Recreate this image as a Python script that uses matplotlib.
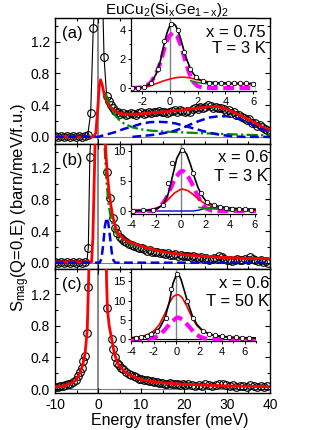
import matplotlib
matplotlib.use('Agg')
import matplotlib.pyplot as plt
from matplotlib.ticker import MultipleLocator, FormatStrFormatter

plt.rcParams['font.family'] = ['Liberation Sans', 'DejaVu Sans']
plt.rcParams['mathtext.fontset'] = 'custom'
plt.rcParams['mathtext.rm'] = 'Liberation Sans'
plt.rcParams['mathtext.it'] = 'Liberation Sans'
plt.rcParams['axes.unicode_minus'] = False

# ---------------- panel (a): x = 0.75, T = 3 K ----------------
a_E = [-10, -9.3, -8.6, -7.9, -7.2, -6.5, -5.8, -5.1, -4.4, -3.7, -3.0, -2.4, -1.7, -1.1,
       1.4, 2.0, 2.5, 3.0, 3.5, 4.0, 4.6, 5.2, 5.8, 6.4, 7.0, 7.6, 8.2, 8.8, 9.4, 10.0,
       10.6, 11.2, 11.8, 12.4, 13.0, 13.6, 14.2, 14.8, 15.4, 16.0, 16.6, 17.2, 17.8, 18.4,
       19.0, 19.6, 20.2, 20.8, 21.4, 22.0, 22.6, 23.2, 23.8, 24.4, 25.0, 25.6, 26.2, 26.8,
       27.4, 28.0, 28.6, 29.2, 29.8, 30.4, 31.0, 31.6, 32.2, 32.8, 33.4, 34.0, 34.6, 35.2,
       35.8, 36.4, 37.0, 37.6, 38.2, 38.8, 39.4, 40.0]
a_S = [0.01, 0.0, 0.01, 0.0, 0.01, 0.0, 0.01, 0.0, 0.01, 0.0, 0.01, 0.02, 0.30, 1.38,
       1.01, 0.52, 0.45, 0.40, 0.37, 0.33, 0.31, 0.29, 0.30, 0.28, 0.29, 0.30, 0.29, 0.28, 0.30, 0.31,
       0.29, 0.30, 0.31, 0.30, 0.31, 0.32, 0.33, 0.31, 0.32, 0.30, 0.31, 0.33, 0.34, 0.32,
       0.34, 0.33, 0.31, 0.33, 0.32, 0.35, 0.36, 0.35, 0.38, 0.37, 0.38, 0.40, 0.39, 0.37,
       0.38, 0.36, 0.37, 0.35, 0.33, 0.34, 0.30, 0.31, 0.28, 0.27, 0.25, 0.24, 0.21, 0.22,
       0.18, 0.17, 0.14, 0.15, 0.12, 0.10, 0.09, 0.08]
a_blk_E = [-10, -2.4, -1.7, -1.1, -0.7, 1.1, 1.4, 2.0, 2.6]
a_blk_S = [0.0, 0.02, 0.30, 1.38, 1.7, 1.7, 1.01, 0.52, 0.45]
a_red_E = [-10, -1.0, -0.5, 0.0, 0.3, 0.6, 1.0, 1.5, 2.0, 3.0, 4.0, 5.0, 6.0, 8.0, 10, 12, 14,
           16, 18, 20, 22, 24, 26, 27, 28, 30, 32, 34, 36, 38, 40]
a_red_S = [0.0, 0.0, 0.05, 0.40, 0.65, 0.72, 0.65, 0.52, 0.45, 0.37, 0.32, 0.30, 0.29, 0.285,
           0.29, 0.30, 0.31, 0.32, 0.33, 0.34, 0.355, 0.37, 0.38, 0.385, 0.38, 0.35, 0.30, 0.25,
           0.19, 0.13, 0.09]
a_grn_E = [1.8, 2.0, 2.5, 3.0, 4.0, 5.0, 6.0, 8.0, 10, 12, 15, 20, 25, 30, 35, 40]
a_grn_S = [0.55, 0.50, 0.44, 0.38, 0.27, 0.21, 0.17, 0.12, 0.095, 0.08, 0.068, 0.055, 0.045,
           0.035, 0.025, 0.018]
a_bl1_E = [-10, 0, 2, 4, 6, 8, 10, 12, 14, 16, 18, 20, 22, 24, 26, 28, 30, 32, 34, 40]
a_bl1_S = [0.0, 0.0, 0.03, 0.06, 0.10, 0.13, 0.165, 0.185, 0.19, 0.185, 0.17, 0.14, 0.11,
           0.08, 0.05, 0.03, 0.015, 0.005, 0.0, 0.0]
a_bl2_E = [8, 10, 12, 14, 16, 18, 20, 22, 24, 26, 28, 30, 32, 34, 36, 38, 40]
a_bl2_S = [0.0, 0.01, 0.02, 0.035, 0.055, 0.08, 0.12, 0.17, 0.21, 0.245, 0.26, 0.26, 0.24,
           0.20, 0.15, 0.10, 0.06]

# inset (a)
ia_E = [-2.7, -2.3, -1.85, -1.35, -0.85, -0.4, 0.1, 0.55, 1.0, 1.45, 1.9, 2.35, 2.8, 3.25,
        3.7, 4.15, 4.6, 5.05, 5.5, 5.95]
ia_S = [0.03, 0.03, 0.1, 0.37, 1.3, 3.2, 4.4, 3.95, 2.5, 1.3, 0.75, 0.47, 0.38, 0.35, 0.33,
        0.34, 0.32, 0.33, 0.32, 0.31]
ia_blk_E = [-2.8, -2.3, -2.0, -1.6, -1.3, -1.0, -0.7, -0.4, -0.2, 0.0, 0.2, 0.4, 0.6, 0.8,
            1.0, 1.2, 1.4, 1.6, 1.8, 2.0, 2.3, 2.6, 3.0, 4.0, 5.0, 6.2]
ia_blk_S = [0.02, 0.03, 0.06, 0.2, 0.45, 0.95, 1.8, 3.1, 3.8, 4.3, 4.45, 4.3, 3.9, 3.3, 2.6,
            2.0, 1.5, 1.1, 0.85, 0.65, 0.5, 0.42, 0.38, 0.35, 0.33, 0.32]
ia_mag_E = [-2.8, -2.2, -1.8, -1.4, -1.0, -0.7, -0.4, -0.1, 0.2, 0.5, 0.8, 1.1, 1.4, 1.7,
            2.0, 2.4, 3.0, 6.2]
ia_mag_S = [0.0, 0.03, 0.12, 0.35, 0.95, 1.7, 2.7, 3.5, 3.8, 3.6, 2.9, 1.9, 1.0, 0.4, 0.13,
            0.03, 0.0, 0.0]
ia_red_E = [-2.8, -2.0, -1.5, -1.0, -0.5, 0.0, 0.5, 0.9, 1.4, 2.0, 2.6, 3.3, 4.5, 6.2]
ia_red_S = [0.0, 0.02, 0.12, 0.3, 0.48, 0.62, 0.72, 0.75, 0.71, 0.57, 0.45, 0.37, 0.28, 0.22]
ia_grn_E = [1.5, 2.0, 2.5, 3.0, 4.0, 5.0, 6.2]
ia_grn_S = [0.5, 0.38, 0.32, 0.29, 0.27, 0.26, 0.25]

# ---------------- panel (b): x = 0.6, T = 3 K ----------------
b_E = [-10, -9.3, -8.6, -7.9, -7.2, -6.5, -5.8, -5.1, -4.4, -3.7, -3.0, -2.25, -1.9,
       2.0, 2.8, 3.55, 3.95, 4.5, 5.0, 5.5, 6.0, 6.6, 7.2, 7.8, 8.4, 9.0, 9.6, 10.2, 10.8,
       11.4, 12.0, 12.6, 13.2, 13.8, 14.4, 15.0, 15.6, 16.2, 16.8, 17.4, 18.0, 18.6, 19.2,
       19.8, 20.4, 21.0, 21.6, 22.2, 22.8, 23.4, 24.0, 24.6, 25.2, 25.8, 26.4, 27.0, 27.6,
       28.2, 28.8, 29.4, 30.0, 30.6, 31.2, 31.8, 32.4, 33.0, 33.6, 34.2, 34.8, 35.4, 36.0,
       36.6, 37.2, 37.8, 38.4, 39.0, 39.6]
b_S = [0.01, 0.0, 0.01, 0.0, 0.01, 0.0, 0.01, 0.0, 0.01, 0.0, 0.01, 0.19, 1.33,
       1.15, 0.82, 0.57, 0.44, 0.38, 0.33, 0.30, 0.28, 0.26, 0.24, 0.22, 0.21, 0.20, 0.18,
       0.18, 0.17, 0.15, 0.16, 0.14, 0.13, 0.13, 0.12, 0.12, 0.11, 0.12, 0.10, 0.10, 0.11,
       0.09, 0.10, 0.09, 0.08, 0.09, 0.07, 0.08, 0.07, 0.06, 0.07, 0.05, 0.06, 0.04, 0.05,
       0.06, 0.05, 0.08, 0.07, 0.05, 0.03, 0.04, 0.02, 0.03, 0.05, 0.04, 0.03, 0.05, 0.04,
       0.07, 0.05, 0.03, 0.02, 0.03, 0.01, 0.02, 0.0]
b_blk_E = [-10, -2.6, -2.25, -1.9, -1.6]
b_blk_S = [0.0, 0.01, 0.19, 1.33, 1.7]
b_red_E = [-10, -1.5, -1.2, -0.9, -0.6, 1.6, 1.8, 2.2, 2.6, 3.0, 3.5, 4.0, 4.5, 5.0, 6.0,
           7.0, 8.0, 10, 12, 14, 16, 18, 20, 25, 30, 35, 40]
b_red_S = [0.01, 0.01, 0.3, 1.0, 1.7, 1.7, 1.4, 1.1, 0.88, 0.72, 0.57, 0.46, 0.39, 0.35,
           0.30, 0.27, 0.25, 0.21, 0.18, 0.15, 0.13, 0.115, 0.10, 0.08, 0.065, 0.055, 0.05]
b_grn_E = [1.3, 1.6, 2.0, 2.5, 3.0, 3.5, 4.0, 5.0, 6.0, 8.0, 10, 15, 20, 30, 40]
b_grn_S = [1.7, 1.4, 1.0, 0.72, 0.56, 0.46, 0.39, 0.32, 0.28, 0.23, 0.195, 0.135, 0.095,
           0.06, 0.045]
b_blu_E = [-10, 0.4, 0.8, 1.2, 1.6, 2.0, 2.4, 2.8, 3.2, 3.6, 4.0, 40]
b_blu_S = [0.0, 0.0, 0.05, 0.22, 0.46, 0.57, 0.50, 0.32, 0.13, 0.03, 0.0, 0.0]

# inset (b)
ib_E = [-3.87, -3.04, -2.2, -1.39, -0.98, -0.65, 0.12, 1.03, 1.63, 2.18, 2.7, 3.2, 3.7,
        4.2, 4.7, 5.2, 5.7]
ib_S = [0.05, 0.1, 0.2, 1.0, 4.6, 8.1, 10.2, 6.3, 2.95, 1.55, 0.95, 0.7, 0.5, 0.4, 0.32,
        0.3, 0.25]
ib_blk_E = [-4.0, -3.0, -2.2, -1.8, -1.4, -1.0, -0.6, -0.3, 0.0, 0.2, 0.5, 0.8, 1.1, 1.4,
            1.7, 2.0, 2.4, 2.8, 3.3, 4.0, 5.0, 6.1]
ib_blk_S = [0.05, 0.08, 0.2, 0.5, 1.1, 2.8, 6.2, 8.8, 10.0, 10.3, 9.5, 7.8, 5.8, 4.0, 2.7,
            1.8, 1.2, 0.9, 0.7, 0.5, 0.35, 0.3]
ib_mag_E = [-4.0, -2.4, -2.0, -1.6, -1.2, -0.8, -0.4, 0.0, 0.2, 0.5, 0.9, 1.3, 1.7, 2.1,
            2.5, 3.0, 6.1]
ib_mag_S = [0.0, 0.02, 0.2, 0.8, 2.0, 3.8, 5.6, 6.6, 6.7, 6.2, 4.7, 2.9, 1.3, 0.4, 0.08,
            0.0, 0.0]
ib_red_E = [-4.0, -3.0, -2.2, -1.5, -1.0, -0.5, 0.0, 0.2, 0.6, 1.0, 1.5, 2.0, 2.5, 3.0,
            4.0, 5.0, 6.1]
ib_red_S = [0.02, 0.1, 0.3, 0.9, 1.9, 3.0, 3.6, 3.65, 3.4, 2.8, 1.9, 1.2, 0.8, 0.55, 0.3,
            0.18, 0.12]
ib_grn_E = [1.5, 2.0, 2.5, 3.0, 4.0, 5.0, 6.1]
ib_grn_S = [0.6, 0.45, 0.38, 0.32, 0.25, 0.2, 0.18]
ib_blu_E = [-4.0, 1.0, 1.5, 2.0, 2.4, 2.8, 3.3, 3.8, 4.3, 6.1]
ib_blu_S = [0.0, 0.0, 0.15, 0.45, 0.55, 0.45, 0.2, 0.05, 0.0, 0.0]

# ---------------- panel (c): x = 0.6, T = 50 K ----------------
c_E = [-10, -9.4, -8.8, -8.2, -7.6, -7.0, -6.4, -5.8, -5.2, -4.7, -4.2, -3.8, -3.4, -3.0,
       -2.5, -2.25, 2.1, 3.2, 3.6, 4.0, 4.4, 4.9, 5.4, 5.9, 6.5, 7.1, 7.7, 8.3, 8.9, 9.5,
       10.1, 10.7, 11.3, 11.9, 12.5, 13.1, 13.7, 14.3, 14.9, 15.5, 16.1, 16.7, 17.3, 17.9,
       18.5, 19.1, 19.7, 20.3, 21.0, 21.8, 22.6, 23.4, 24.2, 25.0, 25.8, 26.6, 27.4, 28.2,
       29.0, 29.8, 30.6, 31.4, 32.2, 33.0, 33.8, 34.6, 35.4, 36.2, 37.0, 37.8, 38.6, 39.4]
c_S = [0.03, 0.03, 0.04, 0.04, 0.05, 0.06, 0.07, 0.09, 0.12, 0.16, 0.21, 0.27, 0.35, 0.42,
       0.71, 1.29, 1.02, 0.64, 0.51, 0.40, 0.33, 0.30, 0.27, 0.25, 0.22, 0.19, 0.18, 0.16,
       0.15, 0.13, 0.13, 0.12, 0.11, 0.10, 0.10, 0.09, 0.09, 0.08, 0.08, 0.07, 0.07, 0.08,
       0.06, 0.07, 0.06, 0.05, 0.06, 0.05, 0.06, 0.05, 0.04, 0.05, 0.04, 0.06, 0.05, 0.04,
       0.05, 0.06, 0.07, 0.05, 0.04, 0.05, 0.03, 0.04, 0.04, 0.03, 0.05, 0.04, 0.03, 0.04,
       0.03, 0.04]
c_red_E = [-10, -8, -6, -5, -4, -3.5, -3.0, -2.5, -2.2, -1.9, 1.8, 2.0, 2.2, 2.6, 3.2, 3.6,
           4.0, 4.4, 5.0, 6.0, 7.0, 8.0, 10, 12, 15, 20, 25, 30, 35, 40]
c_red_S = [0.025, 0.04, 0.08, 0.12, 0.23, 0.32, 0.45, 0.75, 1.35, 2.0, 2.0, 1.35, 1.0, 0.8,
           0.63, 0.51, 0.42, 0.35, 0.29, 0.23, 0.19, 0.16, 0.12, 0.10, 0.08, 0.06, 0.05,
           0.04, 0.035, 0.03]

# inset (c)
ic_E = [-3.6, -3.1, -2.6, -2.2, -1.7, -0.95, -0.5, 0.05, 0.97, 1.45, 2.3, 2.85, 3.4, 4.0,
        4.6, 5.2, 5.8, 6.4]
ic_S = [0.35, 0.5, 0.8, 1.2, 2.0, 5.6, 13.0, 16.9, 10.0, 5.5, 2.1, 1.4, 1.0, 0.7, 0.55,
        0.45, 0.4, 0.35]
ic_blk_E = [-4.0, -3.0, -2.5, -2.0, -1.5, -1.0, -0.6, -0.3, 0.0, 0.15, 0.4, 0.7, 1.0, 1.4,
            1.8, 2.2, 2.7, 3.3, 4.0, 5.0, 6.0, 7.0]
ic_blk_S = [0.3, 0.55, 0.9, 1.5, 2.8, 5.5, 10.0, 14.5, 16.8, 17.1, 15.5, 12.5, 9.5, 6.0, 3.8,
            2.5, 1.6, 1.0, 0.7, 0.45, 0.35, 0.3]
ic_red_E = [-4.0, -3.0, -2.5, -2.0, -1.5, -1.0, -0.6, -0.3, 0.0, 0.2, 0.5, 0.9, 1.3, 1.8,
            2.3, 3.0, 4.0, 5.0, 7.0]
ic_red_S = [0.35, 0.7, 1.2, 2.1, 3.8, 6.7, 9.5, 11.0, 11.5, 11.5, 10.8, 8.6, 6.0, 3.5, 2.1,
            1.1, 0.6, 0.4, 0.25]
ic_mag_E = [-4.0, -2.5, -2.0, -1.5, -1.0, -0.5, 0.0, 0.2, 0.6, 1.0, 1.5, 2.0, 2.5, 3.0, 7.0]
ic_mag_S = [0.0, 0.05, 0.3, 1.0, 2.5, 4.3, 5.5, 5.6, 4.9, 3.6, 1.9, 0.7, 0.15, 0.0, 0.0]

labels = ['(a)', '(b)', '(c)']
conditions = [('x = 0.75', 'T = 3 K'), ('x = 0.6', 'T = 3 K'), ('x = 0.6', 'T = 50 K')]

RED = '#ff0000'
BLUE = '#0000dd'
GREEN = '#008a00'
MAG = '#ff00ff'
GRAY = '#808080'

W, H = 332, 430
fig = plt.figure(figsize=(W / 100, H / 100), dpi=100)


def px_axes(x0, y0, x1, y1):
    # pixel box (top-left origin) -> figure fraction
    return [x0 / W, 1 - y1 / H, (x1 - x0) / W, (y1 - y0) / H]


main_boxes = [(55, 18, 270, 144), (55, 144, 270, 269), (55, 269, 270, 393)]
inset_boxes = [(131, 18, 256, 91), (131, 144, 256, 214), (131, 269, 256, 341)]
main_ylims = [(-0.09, 1.5), (-0.08, 1.5), (-0.05, 1.52)]
inset_xlims = [(-2.8, 6.2), (-4, 6.1), (-4, 7)]
inset_ylims = [(-0.2, 4.8), (-0.5, 11.2), (-0.5, 18.2)]
inset_ymaj = [2, 5, 5]

axes = []
for i in range(3):
    ax = fig.add_axes(px_axes(*main_boxes[i]))
    ax.set_xlim(-10, 40)
    ax.set_ylim(*main_ylims[i])
    ax.xaxis.set_major_locator(MultipleLocator(10))
    ax.xaxis.set_minor_locator(MultipleLocator(5))
    ax.yaxis.set_major_locator(MultipleLocator(0.4))
    ax.yaxis.set_minor_locator(MultipleLocator(0.2))
    ax.yaxis.set_major_formatter(FormatStrFormatter('%.1f'))
    ax.tick_params(which='both', direction='in', top=True, right=True, labelsize=10,
                   width=0.8)
    ax.tick_params(which='major', length=3.5)
    ax.tick_params(which='minor', length=2.5)
    if i < 2:
        ax.tick_params(labelbottom=False)
    for s in ax.spines.values():
        s.set_linewidth(1.0)
    ax.axvline(0, color=GRAY, lw=1.3, zorder=1)
    ax.axhline(0, color=GRAY, lw=0.8, zorder=1)
    axes.append(ax)

ma, mb, mc = axes
circ = dict(ls='none', marker='o', ms=5.5, mfc='none', mec='k', mew=0.8, zorder=2)

# (a)
ma.plot(a_E, a_S, **circ)
ma.plot(a_blk_E, a_blk_S, color='k', lw=0.8, zorder=2)
ma.plot(a_red_E, a_red_S, color=RED, lw=2.0, zorder=3)
ma.plot(a_grn_E, a_grn_S, color=GREEN, lw=1.6, dashes=(5, 1.5, 1, 1.5), zorder=3)
ma.plot(a_bl1_E, a_bl1_S, color=BLUE, lw=1.8, dashes=(3.5, 1.8), zorder=4)
ma.plot(a_bl2_E, a_bl2_S, color=BLUE, lw=1.8, dashes=(3.5, 1.8), zorder=4)

# (b)
mb.plot(b_E, b_S, **circ)
mb.plot(b_blk_E, b_blk_S, color='k', lw=0.8, zorder=2)
mb.plot(b_grn_E, b_grn_S, color=GREEN, lw=1.6, dashes=(5, 1.5, 1, 1.5), zorder=3)
mb.plot(b_red_E, b_red_S, color=RED, lw=2.0, zorder=3)
mb.plot(b_blu_E, b_blu_S, color=BLUE, lw=1.8, dashes=(3.5, 1.8), zorder=4)

# (c)
mc.plot(c_E, c_S, **circ)
mc.plot(c_red_E, c_red_S, color=RED, lw=2.0, zorder=3)

# insets
ins_list = []
for i in range(3):
    ins = fig.add_axes(px_axes(*inset_boxes[i]))
    ins.set_xlim(*inset_xlims[i])
    ins.set_ylim(*inset_ylims[i])
    ins.xaxis.set_major_locator(MultipleLocator(2))
    ins.xaxis.set_minor_locator(MultipleLocator(1))
    ins.yaxis.set_major_locator(MultipleLocator(inset_ymaj[i]))
    ins.yaxis.set_minor_locator(MultipleLocator(inset_ymaj[i] / 2))
    ins.spines['right'].set_visible(False)
    for s in ins.spines.values():
        s.set_linewidth(0.9)
    ins.tick_params(which='both', direction='out', top=False, right=False, labelsize=8,
                    pad=1.5, width=0.7)
    ins.tick_params(which='major', length=2.5)
    ins.tick_params(which='minor', length=1.5)
    ins.axvline(0, color=GRAY, lw=1.0, zorder=1)
    ins_list.append(ins)

ia, ib, ic = ins_list
icirc = dict(ls='none', marker='o', ms=3.2, mfc='white', mec='k', mew=0.6, zorder=5)
mag = dict(color=MAG, lw=3.0, dashes=(2.6, 1.3), zorder=3)

ia.plot(ia_mag_E, ia_mag_S, **mag)
ia.plot(ia_grn_E, ia_grn_S, color=GREEN, lw=1.2, zorder=3)
ia.plot(ia_red_E, ia_red_S, color=RED, lw=1.2, zorder=4)
ia.plot(ia_blk_E, ia_blk_S, color='k', lw=1.2, zorder=4)
ia.plot(ia_E, ia_S, **icirc)

ib.plot(ib_blu_E, ib_blu_S, color=BLUE, lw=1.0, zorder=3)
ib.plot(ib_mag_E, ib_mag_S, **mag)
ib.plot(ib_grn_E, ib_grn_S, color=GREEN, lw=1.2, zorder=3)
ib.plot(ib_red_E, ib_red_S, color=RED, lw=1.2, zorder=4)
ib.plot(ib_blk_E, ib_blk_S, color='k', lw=1.2, zorder=4)
ib.plot(ib_E, ib_S, **icirc)

ic.axhline(0, color='k', lw=0.8, zorder=1)
ic.plot(ic_mag_E, ic_mag_S, **mag)
ic.plot(ic_red_E, ic_red_S, color=RED, lw=1.2, zorder=4)
ic.plot(ic_blk_E, ic_blk_S, color='k', lw=1.2, zorder=4)
ic.plot(ic_E, ic_S, **icirc)

# panel letters and conditions
label_y = [33.5, 160.5, 285]
cond_y = [(36.7, 53.3), (161.7, 180.7), (288, 306.3)]
cond_x = [266, 268, 269]
for i in range(3):
    fig.text(62 / W, 1 - label_y[i] / H, labels[i], fontsize=12, ha='left', va='center')
    fig.text(cond_x[i] / W, 1 - cond_y[i][0] / H, conditions[i][0], fontsize=12,
             ha='right', va='baseline')
    fig.text(cond_x[i] / W, 1 - cond_y[i][1] / H, conditions[i][1], fontsize=12,
             ha='right', va='baseline')

# title kept just inside the top edge
fig.text(167 / W, 1 - 1 / H, r'EuCu$_2$(Si$_x$Ge$_{1-x}$)$_2$', fontsize=11,
         ha='center', va='top')
fig.text(170 / W, 1 - 420 / H, 'Energy transfer (meV)', fontsize=11.5,
         ha='center', va='center')
fig.text(21 / W, 1 - 207 / H, r'S$_{\mathrm{mag}}$(Q=0,E) (barn/meV/f.u.)', fontsize=12,
         rotation=90, ha='center', va='center')

fig.savefig('out.png', dpi=100)
